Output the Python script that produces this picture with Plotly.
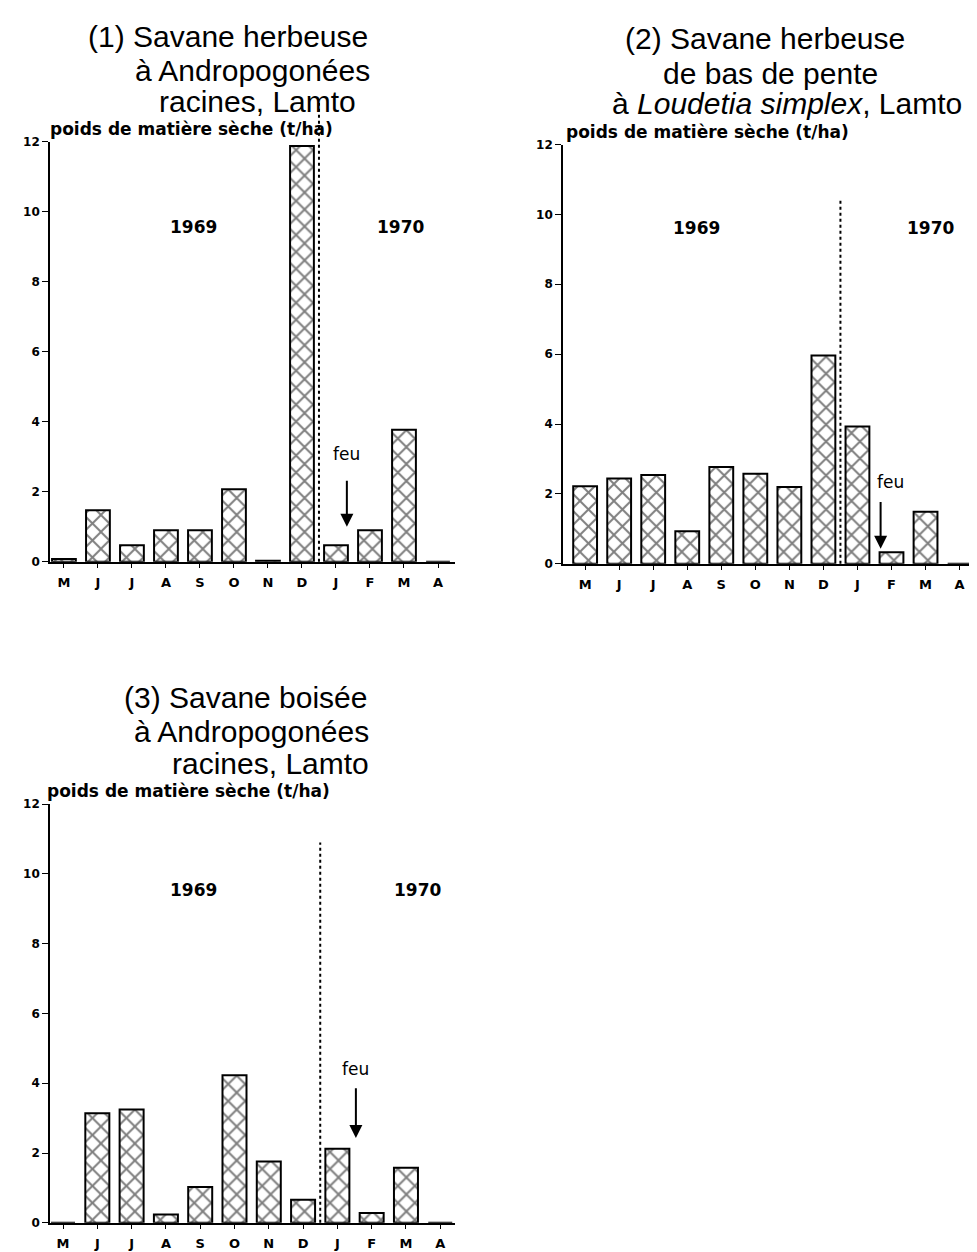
import plotly.graph_objects as go

# months May 1969 -> April 1970
months = ["M", "J", "J", "A", "S", "O", "N", "D", "J", "F", "M", "A"]

# root dry matter (t/ha)
herbeuse_andropogonees = [0.08, 1.47, 0.47, 0.90, 0.90, 2.07, 0.03, 11.87, 0.47, 0.90, 3.77, 0.0]
herbeuse_bas_pente = [2.22, 2.44, 2.54, 0.93, 2.77, 2.58, 2.20, 5.96, 3.93, 0.33, 1.49, 0.0]
boisee_andropogonees = [0.0, 3.14, 3.25, 0.24, 1.03, 4.23, 1.76, 0.66, 2.12, 0.28, 1.58, 0.0]

y_ticks = [0, 2, 4, 6, 8, 10, 12]
year_labels = ["1969", "1970"]
fire_label = "feu"
y_title = "poids de matière sèche (t/ha)"

YEAR_SPLIT = 7.5  # between December and January
W, H = 977, 1252

FONT_TITLE = "Liberation Sans, Arial, sans-serif"
FONT_LAB = "DejaVu Sans, sans-serif"

panels = [
    dict(values=herbeuse_andropogonees, ax="", px=(42, 447), py=(553, 128), xr=[-0.41, 11.5],
         title=[("(1) Savane herbeuse", 220, 22), ("à Andropogonées", 244, 56),
                ("racines, Lamto", 249, 87)],
         ylab=(40, 115), years=[(3.82, 9.55), (9.9, 9.55)], split_top=13.1,
         feu=(8.32, 3.07), arrow=(8.32, 2.36, 1.0)),
    dict(values=herbeuse_bas_pente, ax="2", px=(555, 972), py=(555, 131), xr=[-0.65, 11.6],
         title=[("(2) Savane herbeuse", 757, 24), ("de bas de pente", 762, 59),
                ("à <i>Loudetia simplex</i>, Lamto", 779, 90)],
         ylab=(556, 118), years=[(3.26, 9.6), (10.15, 9.6)], split_top=10.4,
         feu=(8.97, 2.35), arrow=(8.68, 1.81, 0.43)),
    dict(values=boisee_andropogonees, ax="3", px=(42, 447), py=(1221.5, 798), xr=[-0.38, 11.43],
         title=[("(3) Savane boisée", 238, 690), ("à Andropogonées", 243, 725),
                ("racines, Lamto", 262, 757)],
         ylab=(37, 785), years=[(3.79, 9.53), (10.35, 9.53)], split_top=10.9,
         feu=(8.54, 4.4), arrow=(8.54, 3.9, 2.43)),
]

fig = go.Figure()
annotations = []
shapes = []
idx = list(range(len(months)))

for p in panels:
    xa, ya = "x" + p["ax"], "y" + p["ax"]
    fig.add_trace(go.Bar(
        x=idx, y=p["values"], width=0.7, xaxis=xa, yaxis=ya,
        marker=dict(color="white", line=dict(color="black", width=2),
                    pattern=dict(shape="x", fgcolor="black", bgcolor="white",
                                 size=12, solidity=0.3)),
        hoverinfo="skip",
    ))

    fig.layout["xaxis" + p["ax"]] = dict(
        domain=[p["px"][0] / W, p["px"][1] / W], range=p["xr"], anchor=ya,
        tickvals=idx, ticktext=months, ticks="outside", ticklen=4, tickwidth=1.3,
        tickcolor="black", showline=True, linecolor="black", linewidth=1.6,
        showgrid=False, zeroline=False, ticklabelstandoff=4, fixedrange=True,
        tickfont=dict(family=FONT_LAB, size=13, color="black", weight="bold"),
    )
    fig.layout["yaxis" + p["ax"]] = dict(
        domain=[1 - p["py"][0] / H, 1 - p["py"][1] / H], range=[0, 12], anchor=xa,
        tickvals=y_ticks, ticks="outside", ticklen=6, tickwidth=1.3, tickcolor="black",
        showline=True, linecolor="black", linewidth=1.6, showgrid=False, zeroline=False,
        tickfont=dict(family=FONT_LAB, size=12, color="black", weight="bold"),
        fixedrange=True,
    )

    for text, cx, cy in p["title"]:
        annotations.append(dict(
            text=text, x=cx / W, y=1 - cy / H, xref="paper", yref="paper",
            xanchor="center", yanchor="middle", showarrow=False,
            font=dict(family=FONT_TITLE, size=30, color="black"),
        ))
    annotations.append(dict(
        text=y_title, x=p["ylab"][0] / W, y=1 - p["ylab"][1] / H, xref="paper", yref="paper",
        xanchor="left", yanchor="middle", showarrow=False,
        font=dict(family=FONT_LAB, size=17, color="black", weight="bold"),
    ))
    for label, (yx, yy) in zip(year_labels, p["years"]):
        annotations.append(dict(
            text=label, x=yx, y=yy, xref=xa, yref=ya, showarrow=False,
            font=dict(family=FONT_LAB, size=17, color="black", weight="bold"),
        ))
    annotations.append(dict(
        text=fire_label, x=p["feu"][0], y=p["feu"][1], xref=xa, yref=ya, showarrow=False,
        font=dict(family=FONT_LAB, size=17, color="black"),
    ))
    ax_x, tail, head = p["arrow"]
    annotations.append(dict(
        text="", x=ax_x, y=head, ax=ax_x, ay=tail, xref=xa, yref=ya, axref=xa, ayref=ya,
        showarrow=True, arrowhead=2, arrowsize=1.3, arrowwidth=2, arrowcolor="black",
        standoff=0, startstandoff=0,
    ))
    shapes.append(dict(
        type="line", xref=xa, yref=ya + " domain", x0=YEAR_SPLIT, x1=YEAR_SPLIT,
        y0=0, y1=p["split_top"] / 12, line=dict(color="black", width=2, dash="dot"),
    ))

fig.update_layout(
    width=W, height=H, margin=dict(l=0, r=0, t=0, b=0),
    paper_bgcolor="white", plot_bgcolor="white", showlegend=False,
    annotations=annotations, shapes=shapes,
)

fig.write_html("out.html")
